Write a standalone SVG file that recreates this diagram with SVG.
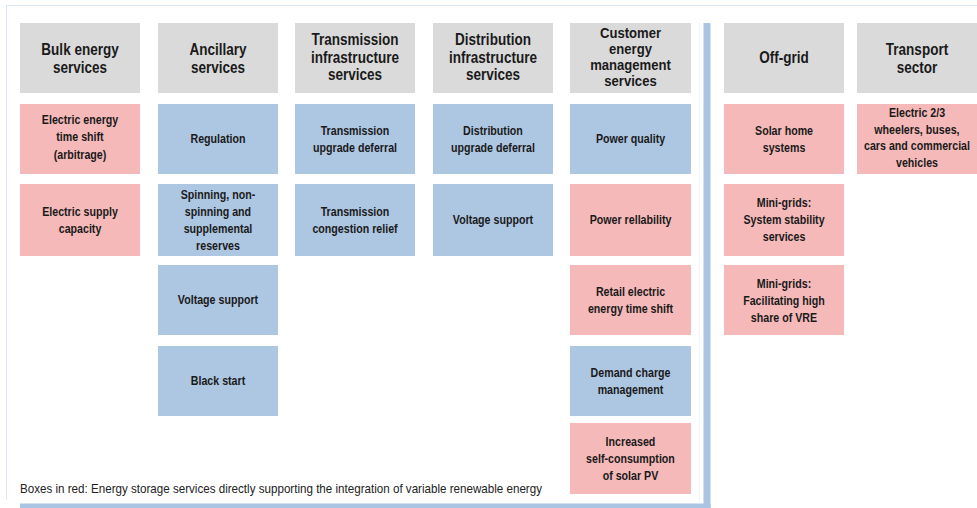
<svg xmlns="http://www.w3.org/2000/svg" width="977" height="508" viewBox="0 0 977 508">
<style>
.hd{fill:#dadada}
.rd{fill:#f5b9b9}
.bl{fill:#adc6e2}
text{font-family:"Liberation Sans Narrow","Liberation Sans",Arial,sans-serif;font-weight:bold;fill:#1a1a1a;text-anchor:middle}
.h,.b,.h4{transform-box:fill-box;transform-origin:center;transform:scaleX(0.82)}
.h{font-size:16.5px}
.h4{font-size:13.8px;transform:scaleX(0.95)}
.b{font-size:13px}
.cap{font-weight:normal;font-size:13px;text-anchor:start;fill:#222}
</style>
<rect width="977" height="508" fill="#fff"/>
<g id="frame">
<line x1="6" y1="5.5" x2="977" y2="5.5" stroke="#dbe7f3" stroke-width="1"/>
<line x1="6.5" y1="5" x2="6.5" y2="500" stroke="#dbe7f3" stroke-width="1"/>
<line x1="699.5" y1="23" x2="699.5" y2="502" stroke="#eef3f8" stroke-width="1"/>
<rect x="703.5" y="23" width="7" height="485" fill="#aac4e3"/>
<rect x="20" y="503.5" width="690.5" height="4.5" fill="#aac4e3"/>
</g>
<g id="connectors"></g>

<g id="bulk-header"><rect class="hd" x="20" y="23" width="120" height="70"/><text class="h" x="80" y="55">Bulk energy</text><text class="h" x="80" y="72.5">services</text></g>
<g id="bulk-1"><rect class="rd" x="20" y="104" width="120" height="70"/><text class="b" x="80" y="124">Electric energy</text><text class="b" x="80" y="141.5">time shift</text><text class="b" x="80" y="159">(arbitrage)</text></g>
<g id="bulk-2"><rect class="rd" x="20" y="184" width="120" height="72"/><text class="b" x="80" y="216">Electric supply</text><text class="b" x="80" y="233">capacity</text></g>

<g id="anc-header"><rect class="hd" x="158" y="23" width="120" height="70"/><text class="h" x="218" y="55">Ancillary</text><text class="h" x="218" y="72.5">services</text></g>
<g id="anc-1"><rect class="bl" x="158" y="104" width="120" height="70"/><text class="b" x="218" y="143.5">Regulation</text></g>
<g id="anc-2"><rect class="bl" x="158" y="184" width="120" height="72"/><text class="b" x="218" y="199">Spinning, non-</text><text class="b" x="218" y="216">spinning and</text><text class="b" x="218" y="233">supplemental</text><text class="b" x="218" y="250">reserves</text></g>
<g id="anc-3"><rect class="bl" x="158" y="265" width="120" height="70"/><text class="b" x="218" y="304.5">Voltage support</text></g>
<g id="anc-4"><rect class="bl" x="158" y="346" width="120" height="70"/><text class="b" x="218" y="385.5">Black start</text></g>

<g id="trans-header"><rect class="hd" x="295" y="23" width="120" height="70"/><text class="h" x="355" y="45.5">Transmission</text><text class="h" x="355" y="63">infrastructure</text><text class="h" x="355" y="80.5">services</text></g>
<g id="trans-1"><rect class="bl" x="295" y="104" width="120" height="70"/><text class="b" x="355" y="135">Transmission</text><text class="b" x="355" y="152">upgrade deferral</text></g>
<g id="trans-2"><rect class="bl" x="295" y="184" width="120" height="72"/><text class="b" x="355" y="216">Transmission</text><text class="b" x="355" y="233">congestion relief</text></g>

<g id="dist-header"><rect class="hd" x="433" y="23" width="120" height="70"/><text class="h" x="493" y="45.5">Distribution</text><text class="h" x="493" y="63">infrastructure</text><text class="h" x="493" y="80.5">services</text></g>
<g id="dist-1"><rect class="bl" x="433" y="104" width="120" height="70"/><text class="b" x="493" y="135">Distribution</text><text class="b" x="493" y="152">upgrade deferral</text></g>
<g id="dist-2"><rect class="bl" x="433" y="184" width="120" height="72"/><text class="b" x="493" y="224.5">Voltage support</text></g>

<g id="cust-header"><rect class="hd" x="570" y="23" width="121" height="70"/><text class="h4" x="630.5" y="38.5">Customer</text><text class="h4" x="630.5" y="54.5">energy</text><text class="h4" x="630.5" y="70.5">management</text><text class="h4" x="630.5" y="86.5">services</text></g>
<g id="cust-1"><rect class="bl" x="570" y="104" width="121" height="70"/><text class="b" x="630.5" y="143.5">Power quality</text></g>
<g id="cust-2"><rect class="rd" x="570" y="184" width="121" height="72"/><text class="b" x="630.5" y="224.5">Power rellability</text></g>
<g id="cust-3"><rect class="rd" x="570" y="265" width="121" height="70"/><text class="b" x="630.5" y="296">Retail electric</text><text class="b" x="630.5" y="313">energy time shift</text></g>
<g id="cust-4"><rect class="bl" x="570" y="346" width="121" height="70"/><text class="b" x="630.5" y="377">Demand charge</text><text class="b" x="630.5" y="394">management</text></g>
<g id="cust-5"><rect class="rd" x="570" y="423" width="121" height="71"/><text class="b" x="630.5" y="446">Increased</text><text class="b" x="630.5" y="463">self-consumption</text><text class="b" x="630.5" y="480">of solar PV</text></g>

<g id="off-header"><rect class="hd" x="724" y="23" width="120" height="70"/><text class="h" x="784" y="63.5">Off-grid</text></g>
<g id="off-1"><rect class="rd" x="724" y="104" width="120" height="70"/><text class="b" x="784" y="135">Solar home</text><text class="b" x="784" y="152">systems</text></g>
<g id="off-2"><rect class="rd" x="724" y="184" width="120" height="72"/><text class="b" x="784" y="207.5">Mini-grids:</text><text class="b" x="784" y="224.5">System stability</text><text class="b" x="784" y="241.5">services</text></g>
<g id="off-3"><rect class="rd" x="724" y="265" width="120" height="70"/><text class="b" x="784" y="288">Mini-grids:</text><text class="b" x="784" y="305">Facilitating high</text><text class="b" x="784" y="322">share of VRE</text></g>

<g id="transport-header"><rect class="hd" x="857" y="23" width="120" height="70"/><text class="h" x="917" y="55">Transport</text><text class="h" x="917" y="72.5">sector</text></g>
<g id="transport-1"><rect class="rd" x="857" y="104" width="120" height="70"/><text class="b" x="917" y="117.5">Electric 2/3</text><text class="b" x="917" y="134">wheelers, buses,</text><text class="b" x="917" y="150.5">cars and commercial</text><text class="b" x="917" y="167">vehicles</text></g>

<g id="caption"><text class="cap" x="20" y="493" textLength="522" lengthAdjust="spacingAndGlyphs">Boxes in red: Energy storage services directly supporting the integration of variable renewable energy</text></g>
</svg>
